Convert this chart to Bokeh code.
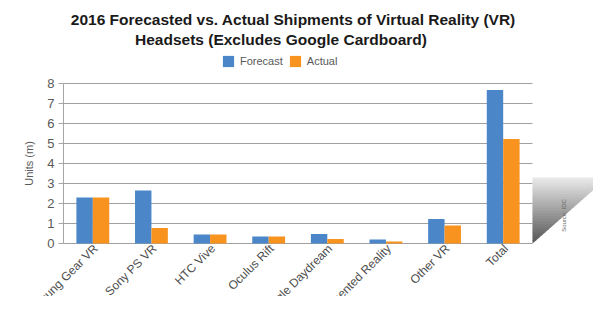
import math
from bokeh.plotting import figure
from bokeh.models import (ColumnDataSource, Label, LabelSet, Legend, LegendItem,
                          PolyAnnotation, FixedTicker, Range1d)
from bokeh.core.properties import value
from bokeh.transform import dodge
from bokeh.embed import file_html
from bokeh.resources import INLINE

categories = ["Samsung Gear VR", "Sony PS VR", "HTC Vive", "Oculus Rift",
              "Google Daydream", "Augmented Reality", "Other VR", "Total"]
forecast = [2.3, 2.65, 0.45, 0.35, 0.48, 0.2, 1.22, 7.68]
actual = [2.3, 0.78, 0.45, 0.35, 0.23, 0.1, 0.9, 5.23]
y_ticks = [0, 1, 2, 3, 4, 5, 6, 7, 8]

BLUE = "#4A86C8"
ORANGE = "#F7931E"
FONT = "Liberation Sans"
GREY_TXT = "#595959"

ncat = len(categories)
xpos = [i + 0.5 for i in range(ncat)]
src = ColumnDataSource(dict(cat=categories, x=xpos, forecast=forecast, actual=actual,
                            zero=[0] * ncat))

W, H = 593, 296
LEFT = 63
PX_PER_CAT = 58.625
PX_PER_UNIT = 20.0
ZERO_Y = 243

p = figure(x_range=Range1d(-LEFT / PX_PER_CAT, (W - LEFT) / PX_PER_CAT),
           y_range=Range1d(-(H - ZERO_Y) / PX_PER_UNIT, ZERO_Y / PX_PER_UNIT),
           width=W, height=H, output_backend="svg", toolbar_location=None,
           x_axis_location=None,
           min_border_left=0, min_border_right=0, min_border_top=0, min_border_bottom=0)
p.outline_line_color = None
p.background_fill_color = "white"
p.border_fill_color = "white"
p.xgrid.visible = False
p.ygrid.visible = False

# horizontal gridlines across the category area
p.segment(x0=[0] * len(y_ticks), x1=[ncat] * len(y_ticks), y0=y_ticks, y1=y_ticks,
          line_color="#a0a0a0", line_width=1)

rf = p.vbar(x=dodge("x", -0.14), top="forecast", width=0.28,
            source=src, fill_color=BLUE, line_color=None)
ra = p.vbar(x=dodge("x", 0.14), top="actual", width=0.28,
            source=src, fill_color=ORANGE, line_color=None)

# y axis (drawn at x = 0 inside the frame so category labels can extend to its left)
p.yaxis.fixed_location = 0
p.yaxis.bounds = (y_ticks[0], y_ticks[-1])
p.yaxis.ticker = FixedTicker(ticks=y_ticks)
p.yaxis.axis_label = "Units (m)"
p.yaxis.axis_label_text_font = FONT
p.yaxis.axis_label_text_font_size = "11px"
p.yaxis.axis_label_text_font_style = "normal"
p.yaxis.axis_label_text_color = GREY_TXT
p.yaxis.axis_label_standoff = 9
p.yaxis.major_label_text_font = FONT
p.yaxis.major_label_text_font_size = "13px"
p.yaxis.major_label_text_color = GREY_TXT
p.yaxis.major_label_standoff = 4
p.yaxis.axis_line_color = "#a6a6a6"
p.yaxis.major_tick_line_color = "#a6a6a6"
p.yaxis.major_tick_out = 5
p.yaxis.major_tick_in = 0
p.yaxis.minor_tick_line_color = None

# rotated category labels
labels = LabelSet(x="x", y="zero", text="cat", source=src, angle=math.pi / 4,
                  text_align="right", text_baseline="middle", x_offset=3, y_offset=-3,
                  text_font=value(FONT), text_font_size=value("12px"),
                  text_color="#4d4d4d")
p.add_layout(labels)

# title
p.add_layout(Label(x=3.92, y=11.2,
                   text="2016 Forecasted vs. Actual Shipments of Virtual Reality (VR)",
                   text_align="center", text_baseline="middle", text_font=FONT,
                   text_font_size="15.5px", text_font_style="bold", text_color="#1a1a1a"))
p.add_layout(Label(x=3.71, y=10.2,
                   text="Headsets (Excludes Google Cardboard)",
                   text_align="center", text_baseline="middle", text_font=FONT,
                   text_font_size="15.5px", text_font_style="bold", text_color="#1a1a1a"))

# legend (screen offset from the frame's left edge)
legend = Legend(items=[LegendItem(label="Forecast", renderers=[rf]),
                       LegendItem(label="Actual", renderers=[ra])],
                location=(158 + LEFT, 228), orientation="horizontal",
                padding=0, margin=0, spacing=5, label_standoff=5,
                glyph_width=14, glyph_height=14, label_height=14,
                label_text_font=FONT, label_text_font_size="11px",
                label_text_color=GREY_TXT, border_line_color=None,
                background_fill_alpha=0)
p.add_layout(legend)

# decorative page-curl triangle at the right of the plot area
n = 24
x0, w, h = ncat, 1.28, 3.3
for i in range(n):
    a = h * i / n
    b = min(h, h * (i + 1.3) / n)
    t = (i + 0.5) / n
    g = int(85 + t * (235 - 85))
    col = "#%02x%02x%02x" % (g, g, g)
    p.add_layout(PolyAnnotation(xs=[x0, x0 + w * a / h, x0 + w * b / h, x0],
                                ys=[a, a, b, b], fill_color=col, fill_alpha=1,
                                line_color=None))

# small rotated source note (unreadable in the reference; placeholder text)
p.add_layout(Label(x=8.53, y=1.4, text="Source: IDC",
                   angle=math.pi / 2, text_align="center", text_baseline="middle",
                   text_font=FONT, text_font_size="6px", text_color="#666666"))

open("out.html", "w").write(file_html(p, INLINE))
